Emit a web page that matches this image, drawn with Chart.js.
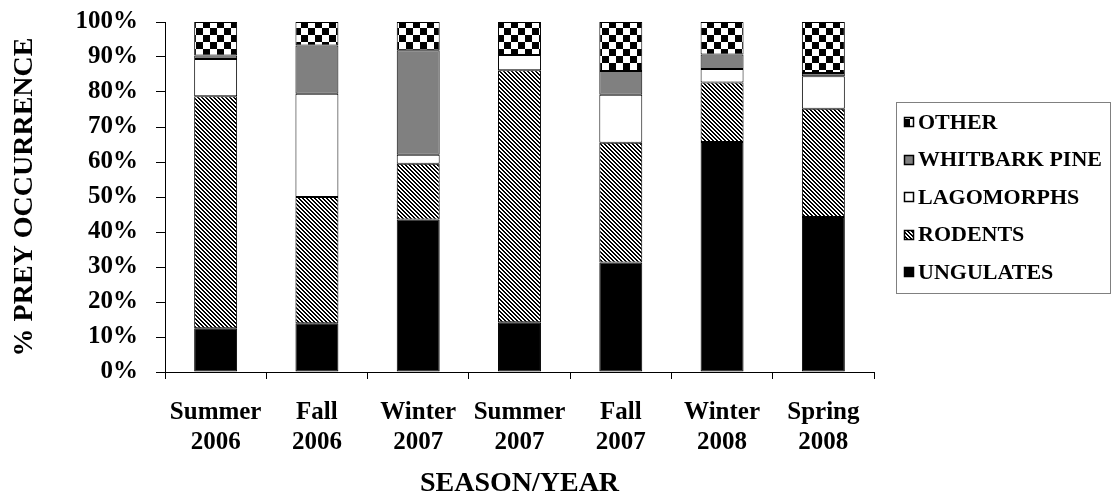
<!DOCTYPE html>
<html>
<head>
<meta charset="utf-8">
<script src="https://cdn.jsdelivr.net/npm/chart.js@4/dist/chart.umd.min.js"></script>
<style>
  html, body { margin: 0; padding: 0; background: #fff; }
  #wrap { width: 1115px; height: 501px; }
</style>
</head>
<body>
<div id="wrap"><canvas id="c" width="1115" height="501"></canvas></div>
<script>
// ---- DATA ----
const categories = [["Summer","2006"],["Fall","2006"],["Winter","2007"],["Summer","2007"],["Fall","2007"],["Winter","2008"],["Spring","2008"]];
const ungulates   = [12.5, 13.9, 43.6, 14.2, 31.3, 65.7, 44.3];
const rodents     = [66.3, 36.1, 15.9, 72.0, 34.2, 17.0, 30.9];
const lagomorphs  = [10.6, 29.5,  2.6,  4.4, 13.7,  3.9,  9.3];
const whitbark    = [ 1.0, 13.8, 29.8,  0.0,  6.8,  4.1,  0.9];
const other       = [ 9.6,  6.7,  8.1,  9.4, 14.0,  9.3, 14.6];
const seriesNames = ["UNGULATES","RODENTS","LAGOMORPHS","WHITBARK PINE","OTHER"];
const yTicks = [0,10,20,30,40,50,60,70,80,90,100];
const yTitle = "% PREY OCCURRENCE";
const xTitle = "SEASON/YEAR";

// ---- PATTERNS ----
function pixelPattern(size, fn) {
  const cv = document.createElement('canvas');
  cv.width = size; cv.height = size;
  const cx = cv.getContext('2d');
  const img = cx.createImageData(size, size);
  for (let y = 0; y < size; y++) for (let x = 0; x < size; x++) {
    const v = fn(x, y) ? 0 : 255;
    const i = (y * size + x) * 4;
    img.data[i] = v; img.data[i+1] = v; img.data[i+2] = v; img.data[i+3] = 255;
  }
  cx.putImageData(img, 0, 0);
  return cx.createPattern(cv, 'repeat');
}
const stripe = pixelPattern(4, (x, y) => (((x - y) % 4) + 4) % 4 < 2);
const checker = pixelPattern(14, (x, y) => ((x < 7) === (y < 7)));
const fills = ['#000000', stripe, '#ffffff', '#808080', checker];
const seriesData = [ungulates, rodents, lagomorphs, whitbark, other];

const FONT = '"Liberation Serif", "Times New Roman", serif';

const legendPlugin = {
  id: 'boxLegend',
  afterDraw(chart) {
    const ctx = chart.ctx;
    ctx.save();
    ctx.strokeStyle = '#808080';
    ctx.lineWidth = 1;
    ctx.strokeRect(896.5, 102.5, 214, 191);
    ctx.font = 'bold 22px ' + FONT;
    ctx.textBaseline = 'middle';
    ctx.textAlign = 'left';
    ctx.fillStyle = '#000';
    const order = [4,3,2,1,0];
    order.forEach((di, i) => {
      const cy = 122 + i * 37.5;
      ctx.fillStyle = fills[di];
      ctx.fillRect(904, Math.round(cy - 5), 10, 10);
      ctx.strokeStyle = '#000';
      ctx.lineWidth = 1.5;
      ctx.strokeRect(904.5, Math.round(cy - 5) + 0.5, 9, 9);
      ctx.fillStyle = '#000';
      ctx.fillText(chart.data.datasets[di].label, 918, cy + 1);
    });
    ctx.restore();
  }
};

new Chart(document.getElementById('c'), {
  type: 'bar',
  data: {
    labels: categories,
    datasets: seriesNames.map((n, i) => ({
      label: n,
      data: seriesData[i],
      backgroundColor: fills[i],
      borderColor: '#000',
      borderWidth: 1,
      borderSkipped: false,
      categoryPercentage: 1,
      barPercentage: 0.424
    }))
  },
  plugins: [legendPlugin],
  options: {
    responsive: false,
    animation: false,
    layout: { padding: { left: 0, right: 241, top: 22, bottom: 0 } },
    plugins: { legend: { display: false }, tooltip: { enabled: false } },
    scales: {
      x: {
        stacked: true,
        grid: { drawOnChartArea: false, drawTicks: true, tickLength: 7, color: '#000', offset: true },
        border: { display: true, color: '#000', width: 1 },
        ticks: { color: '#000', padding: 19, maxRotation: 0, autoSkip: false,
                 font: { family: FONT, size: 25, weight: 'bold', lineHeight: 1.18 } },
        title: { display: true, text: xTitle, color: '#000', padding: { top: 0, bottom: 0 },
                 font: { family: FONT, size: 28, weight: 'bold', lineHeight: 1.2 } },
        afterFit(s) { s.height = 129; s.paddingLeft = 0; s.paddingRight = 0; }
      },
      y: {
        stacked: true,
        min: 0, max: 100,
        afterBuildTicks(s) { s.ticks = yTicks.map(v => ({ value: v })); },
        grid: { drawOnChartArea: false, drawTicks: true, tickLength: 9, color: '#000' },
        border: { display: true, color: '#000', width: 1 },
        ticks: { color: '#000', padding: 18, callback: v => v + '%',
                 font: { family: FONT, size: 25, weight: 'bold' } },
        title: { display: true, text: yTitle, color: '#000', padding: { top: 8, bottom: 0 },
                 font: { family: FONT, size: 28, weight: 'bold', lineHeight: 1.2 } },
        afterFit(s) { s.width = 165; s.paddingTop = 0; s.paddingBottom = 0; }
      }
    }
  }
});
</script>
</body>
</html>
